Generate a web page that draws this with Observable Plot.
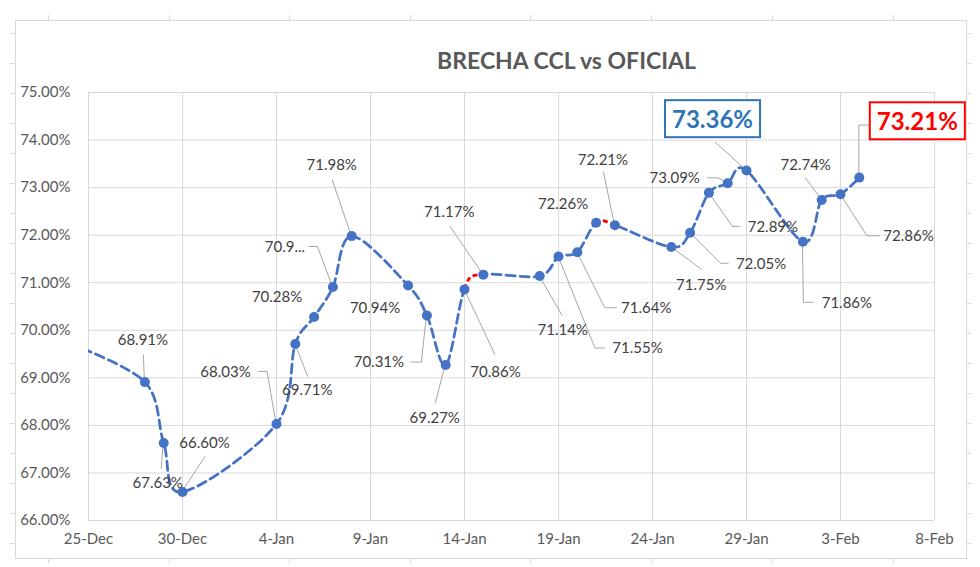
<!DOCTYPE html>
<html>
<head>
<meta charset="utf-8">
<script src="https://cdn.jsdelivr.net/npm/d3@7"></script>
<script src="https://cdn.jsdelivr.net/npm/@observablehq/plot@0.6"></script>
<style>
  html, body { margin: 0; padding: 0; background: #ffffff; }
  #chart svg { display: block; }
</style>
</head>
<body>
<div id="chart"></div>
<script>
// ---- Data ----
const title = "BRECHA CCL vs OFICIAL";
const dates = [
  "2020-12-24", "2020-12-28", "2020-12-29", "2020-12-30",
  "2021-01-04", "2021-01-05", "2021-01-06", "2021-01-07", "2021-01-08",
  "2021-01-11", "2021-01-12", "2021-01-13", "2021-01-14", "2021-01-15",
  "2021-01-18", "2021-01-19", "2021-01-20", "2021-01-21", "2021-01-22",
  "2021-01-25", "2021-01-26", "2021-01-27", "2021-01-28", "2021-01-29",
  "2021-02-01", "2021-02-02", "2021-02-03", "2021-02-04"
];
const values = [
  69.72, 68.91, 67.63, 66.60,
  68.03, 69.71, 70.28, 70.91, 71.98,
  70.94, 70.31, 69.27, 70.86, 71.17,
  71.14, 71.55, 71.64, 72.26, 72.21,
  71.75, 72.05, 72.89, 73.09, 73.36,
  71.86, 72.74, 72.86, 73.21
];
const labels = [
  null, "68.91%", "67.63%", "66.60%",
  "68.03%", "69.71%", "70.28%", "70.9...", "71.98%",
  "70.94%", "70.31%", "69.27%", "70.86%", "71.17%",
  "71.14%", "71.55%", "71.64%", "72.26%", "72.21%",
  "71.75%", "72.05%", "72.89%", "73.09%", "73.36%",
  "71.86%", "72.74%", "72.86%", "73.21%"
];
// highlighted labels (boxed)
const highlightLabels = ["73.36%", "73.21%"];
const highlightColors = ["#2E75B6", "#FF0000"];
// segments drawn in red: [from index, to index]
const redSegments = [[12, 13], [17, 18]];
const xTickDates = ["2020-12-25", "2020-12-30", "2021-01-04", "2021-01-09", "2021-01-14",
  "2021-01-19", "2021-01-24", "2021-01-29", "2021-02-03", "2021-02-08"];
const yTicks = [66, 67, 68, 69, 70, 71, 72, 73, 74, 75];

// ---- Label layout (pixel offsets from each point) ----
const labelOffsets = [
  null, [-2, -42], [-6, 40], [22, -49],
  [-51, -52], [12, 46], [-37, -20], [-48, -40], [-20, -71],
  [-33, 23], [-48, 47], [-11, 53], [31, 83], [-34, -62],
  [23, 54], [79, 92], [69, 56], [-33, -19], [-12, -65],
  [30, 38], [71, 31], [64, 34], [-53, -5], [-34, -50],
  [44, 61], [-16, -35], [68, 42], [58, -55]
];
const leaderOffsets = [
  null, [[-1, -27]], [[-2, 26]], [[23, -35]],
  [[-18, -52], [-9, -52]], [[13, 33]], [], [[-24, -40], [-15, -40]], [[-19, -56]],
  [], [[-16, 47], [-5, 47]], [[-10, 39]], [[31, 66]], [[-33, -48]],
  [[23, 40]], [[47, 92], [37, 92]], [[40, 56], [28, 56]], [], [[-11, -53]],
  [[31, 23]], [[39, 31], [31, 31]], [[32, 34], [24, 34]], [[-20, -5], [-9, -5]], [[-31, -28]],
  [[11, 61], [1, 61]], [[-16, -22]], [[40, 42], [27, 42]], [[10, -52], [0, -52]]
];

// ---- Build table ----
const rows = dates.map((d, i) => ({
  date: new Date(d + "T00:00:00Z"),
  value: values[i],
  label: labels[i],
  i
}));
const visible = rows.filter(d => d.label !== null);
const xTicks = xTickDates.map(d => new Date(d + "T00:00:00Z"));
const fmtDate = d3.utcFormat("%-d-%b");

const blue = "#4472C4";
const FONT = "Lato, 'Liberation Sans', sans-serif";

const labelMarks = visible.map(d => {
  const hi = highlightLabels.indexOf(d.label);
  return Plot.text([d], {
    x: "date", y: "value", text: "label",
    dx: labelOffsets[d.i][0], dy: labelOffsets[d.i][1],
    fill: hi >= 0 ? highlightColors[hi] : "#404040",
    fontSize: hi >= 0 ? 24 : 15,
    fontWeight: hi >= 0 ? "bold" : "normal"
  });
});

const plot = Plot.plot({
  width: 980,
  height: 567,
  marginLeft: 88,
  marginRight: 46,
  marginTop: 92,
  marginBottom: 47,
  style: { fontFamily: FONT, fontSize: "15px", color: "#595959", background: "#ffffff" },
  x: { type: "utc", domain: [xTicks[0], xTicks[xTicks.length - 1]] },
  y: { domain: [66, 75] },
  marks: [
    Plot.gridX(xTicks, { stroke: "#d9d9d9", strokeOpacity: 1 }),
    Plot.gridY(yTicks, { stroke: "#d9d9d9", strokeOpacity: 1 }),
    Plot.axisX(xTicks, { tickSize: 0, tickPadding: 13, tickFormat: fmtDate, fontSize: 15, label: null }),
    Plot.axisY(yTicks, { tickSize: 0, tickPadding: 18, tickFormat: d => d.toFixed(2) + "%", fontSize: 15, label: null }),
    Plot.line(rows, {
      x: "date", y: "value", stroke: blue, strokeWidth: 2.75,
      strokeDasharray: "9,5", curve: "cardinal", tension: 0, clip: true
    }),
    Plot.dot(visible, { x: "date", y: "value", r: 5, fill: blue, stroke: "none" }),
    ...labelMarks,
    Plot.text([title], {
      text: d => d, frameAnchor: "top", dx: 55, dy: -40,
      fontSize: 23, fontWeight: "bold", fill: "#595959"
    })
  ]
});

document.getElementById("chart").appendChild(plot);

// ---- Annotations using the plot's own scales ----
const xs = plot.scale("x"), ys = plot.scale("y");
const P = d => [xs.apply(d.date), ys.apply(d.value)];
const svg = d3.select(plot);
const dotG = plot.querySelector('g[aria-label="dot"]');

// red segments (exact cardinal tension-0 bezier of the main line)
const segG = d3.create("svg:g").attr("aria-label", "red segments");
redSegments.forEach(([a, b]) => {
  const p0 = P(rows[a - 1]), p1 = P(rows[a]), p2 = P(rows[b]), p3 = P(rows[b + 1]);
  const c1 = [p1[0] + (p2[0] - p0[0]) / 6, p1[1] + (p2[1] - p0[1]) / 6];
  const c2 = [p2[0] - (p3[0] - p1[0]) / 6, p2[1] - (p3[1] - p1[1]) / 6];
  const dstr = `M${p1}C${c1},${c2},${p2}`;
  segG.append("path").attr("d", dstr).attr("fill", "none").attr("stroke", "#ffffff").attr("stroke-width", 4.5);
  segG.append("path").attr("d", dstr).attr("fill", "none").attr("stroke", "#FF0000")
    .attr("stroke-width", 2.75).attr("stroke-dasharray", "5,3");
});
plot.insertBefore(segG.node(), dotG);

// leader lines
const leadG = d3.create("svg:g").attr("aria-label", "leader lines")
  .attr("fill", "none").attr("stroke", "#a6a6a6").attr("stroke-width", 1);
visible.forEach(d => {
  const offs = leaderOffsets[d.i];
  if (!offs || !offs.length) return;
  const [x0, y0] = P(d);
  const pts = offs.concat([[0, 0]]).map(([dx, dy]) => [x0 + dx, y0 + dy]);
  leadG.append("path").attr("d", d3.line()(pts));
});
plot.insertBefore(leadG.node(), segG.node());

// boxes around highlighted labels
svg.selectAll('g[aria-label="text"] text').each(function () {
  const t = this.textContent;
  const hi = highlightLabels.indexOf(t);
  if (hi < 0) return;
  const bb = this.getBBox();
  const tr = this.getAttribute("transform");
  const padX = 7, padY = 4;
  const r = d3.select(this.parentNode).insert("rect", () => this)
    .attr("x", bb.x - padX).attr("y", bb.y - padY)
    .attr("width", bb.width + 2 * padX).attr("height", bb.height + 2 * padY)
    .attr("fill", "#ffffff").attr("stroke", highlightColors[hi]).attr("stroke-width", 2);
  if (tr) r.attr("transform", tr);
});

// outer chart frame with faint sheet ticks
const frame = svg.append("g").attr("aria-label", "chart frame").attr("stroke", "#d9d9d9").attr("fill", "none");
frame.append("rect").attr("x", 15.5).attr("y", 20.5).attr("width", 951).attr("height", 538);
d3.range(33, 560, 30).forEach(y => {
  frame.append("line").attr("x1", 10).attr("x2", 15).attr("y1", y + 0.5).attr("y2", y + 0.5);
  frame.append("line").attr("x1", 966).attr("x2", 971).attr("y1", y + 0.5).attr("y2", y + 0.5);
});
[48, 169, 289, 410, 530, 651, 772, 893].forEach(x => {
  frame.append("line").attr("x1", x + 0.5).attr("x2", x + 0.5).attr("y1", 15).attr("y2", 20);
  frame.append("line").attr("x1", x + 0.5).attr("x2", x + 0.5).attr("y1", 558).attr("y2", 563);
});
</script>
</body>
</html>
